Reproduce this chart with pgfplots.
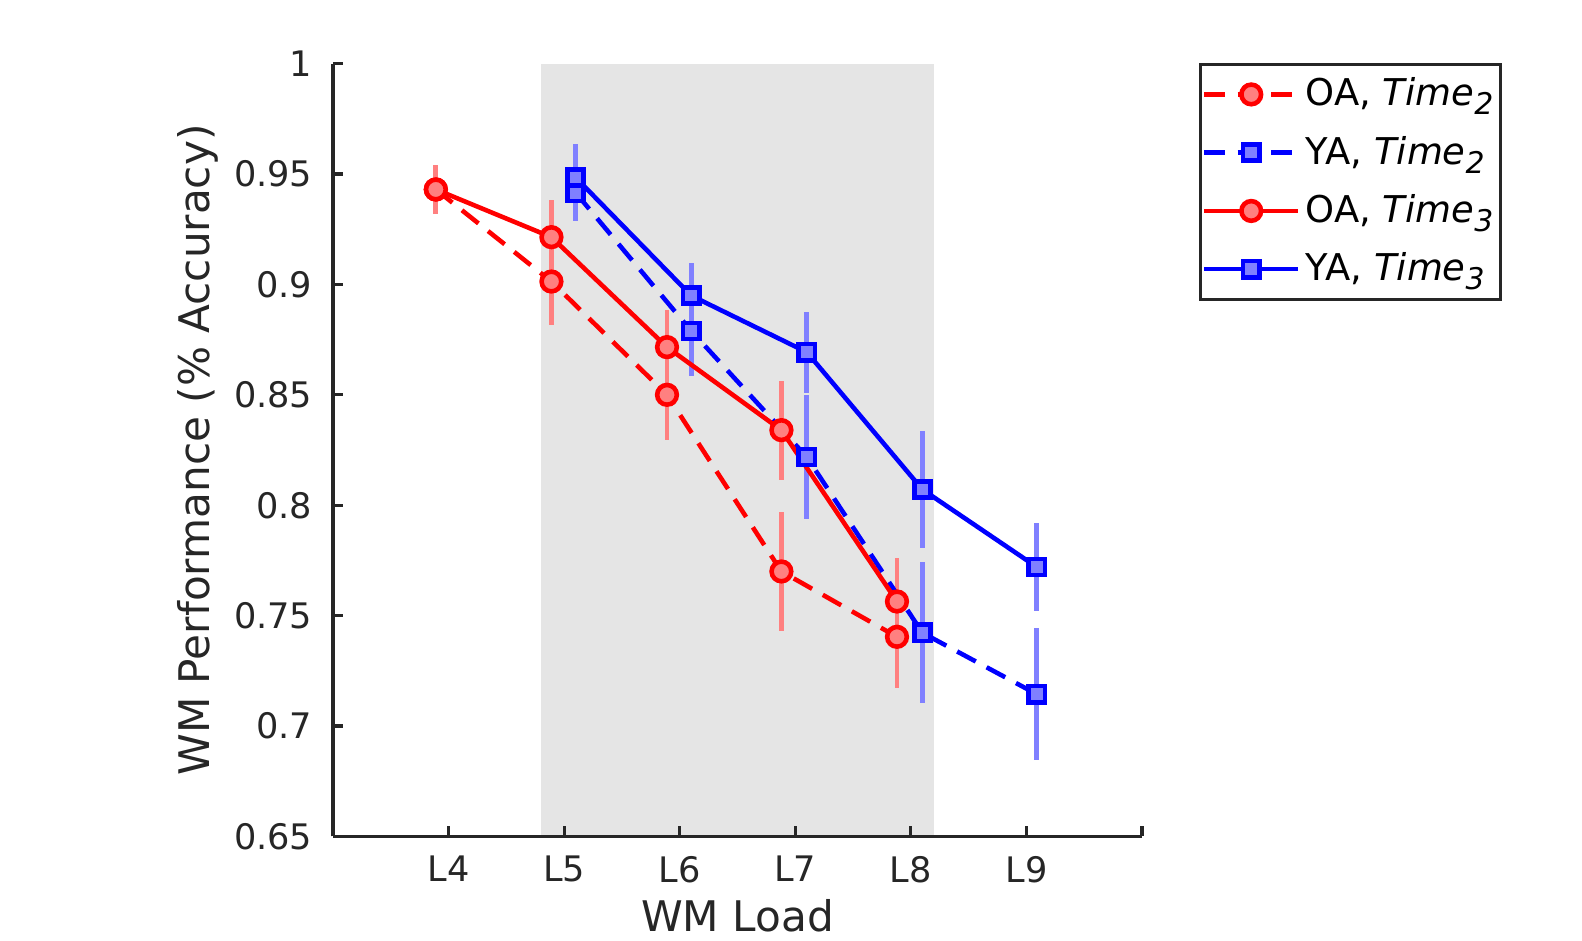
\documentclass[border=0pt]{standalone}
\usepackage{fontspec}
\setmainfont{DejaVu Sans}
\usepackage{pgfplots}
\usepackage{pgfplotstable}
\pgfplotsset{compat=1.18}

\definecolor{oared}{RGB}{255,0,0}
\definecolor{oabar}{RGB}{255,128,128}
\definecolor{yablue}{RGB}{0,0,255}
\definecolor{yabar}{RGB}{128,128,255}
\definecolor{axgray}{RGB}{38,38,38}
\definecolor{shade}{RGB}{229,229,229}

\newcommand{\sub}[1]{\raisebox{-0.45ex}{\fontsize{8.5}{9}\selectfont\itshape #1}}

% x is offset from the load (OA -0.11, YA +0.1), e = error bar half length
\pgfplotstableread{
x y e
3.89 0.9430 0.0110
4.89 0.9013 0.0197
5.89 0.8500 0.0206
6.88 0.7700 0.0270
7.88 0.7404 0.0233
}\oatwo
\pgfplotstableread{
x y e
3.89 0.9430 0.0110
4.89 0.9214 0.0170
5.89 0.8716 0.0170
6.88 0.8340 0.0224
7.88 0.7564 0.0197
}\oathree
\pgfplotstableread{
x y e
5.10 0.9415 0.0130
6.10 0.8789 0.0206
7.10 0.8218 0.0280
8.10 0.7422 0.0320
9.09 0.7144 0.0300
}\yatwo
\pgfplotstableread{
x y e
5.10 0.9484 0.0150
6.10 0.8949 0.0146
7.10 0.8693 0.0183
8.10 0.8071 0.0265
9.09 0.7720 0.0199
}\yathree

\begin{document}
\begin{tikzpicture}
\path[use as bounding box] (-3.33cm,-1.036cm) rectangle (12.49cm,8.364cm);
\begin{axis}[
  width=8.09cm, height=7.728cm, scale only axis,
  xmin=3, xmax=10, ymin=0.65, ymax=1,
  axis x line*=bottom, axis y line*=left,
  axis line style={-, draw=axgray, line width=0.9pt},
  axis on top,
  tick align=inside, major tick length=0.1cm,
  tick style={draw=axgray, line width=0.9pt},
  xtick={3,4,5,6,7,8,9,10},
  xticklabels={,L4,L5,L6,L7,L8,L9,},
  ytick={0.65,0.7,0.75,0.8,0.85,0.9,0.95,1},
  yticklabels={0.65,0.7,0.75,0.8,0.85,0.9,0.95,1},
  tick label style={font=\fontsize{10}{12}\selectfont, text=axgray, inner sep=0pt},
  yticklabel style={xshift=-0.2cm},
  xticklabel style={yshift=-0.19cm},
  xlabel={WM Load},
  ylabel={WM Performance (\% Accuracy)},
  label style={font=\fontsize{12}{14}\selectfont, text=axgray},
  xlabel style={at={(axis description cs:0.5,-0.123)}, anchor=base, inner sep=0pt},
  ylabel style={at={(axis description cs:-0.167,0.5)}, anchor=center},
  legend style={at={(axis description cs:1.070,1.001)}, anchor=north west,
    draw=black!85, line width=0.9pt, font=\fontsize{10.5}{12}\selectfont,
    row sep=3.1pt, inner xsep=0.5pt, inner ysep=1.8pt,
    nodes={inner xsep=1.5pt, inner ysep=2pt}},
  legend cell align=left,
  legend image code/.code={
    \draw[mark repeat=2, mark phase=2, #1]
      plot coordinates {(0cm,0cm) (0.47cm,0cm) (0.94cm,0cm)};},
]
% shaded load range
\addplot[fill=shade, draw=none, forget plot]
  coordinates {(4.8,0.65) (4.8,1) (8.2,1) (8.2,0.65)} -- cycle;

% error bars (behind the lines)
\addplot[draw=none, forget plot, error bars/.cd, y dir=both, y explicit,
  error mark=none, error bar style={draw=oabar, solid, line width=1.4pt}]
  table[x=x, y=y, y error=e] {\oatwo};
\addplot[draw=none, forget plot, error bars/.cd, y dir=both, y explicit,
  error mark=none, error bar style={draw=oabar, solid, line width=1.4pt}]
  table[x=x, y=y, y error=e] {\oathree};
\addplot[draw=none, forget plot, error bars/.cd, y dir=both, y explicit,
  error mark=none, error bar style={draw=yabar, solid, line width=1.4pt}]
  table[x=x, y=y, y error=e] {\yatwo};
\addplot[draw=none, forget plot, error bars/.cd, y dir=both, y explicit,
  error mark=none, error bar style={draw=yabar, solid, line width=1.4pt}]
  table[x=x, y=y, y error=e] {\yathree};

% lines
\addplot[draw=oared, line width=1.3pt, dash pattern=on 6pt off 3.5pt,
  mark=*, mark size=2.8pt, mark options={solid, fill=oabar, draw=oared, line width=1.3pt}]
  table[x=x, y=y] {\oatwo};
\addlegendentry{OA, \textit{Time}\sub{2}}
\addplot[draw=yablue, line width=1.3pt, dash pattern=on 6pt off 3.5pt,
  mark=square*, mark size=2.3pt, mark options={solid, fill=yabar, draw=yablue, line width=1.3pt}]
  table[x=x, y=y] {\yatwo};
\addlegendentry{YA, \textit{Time}\sub{2}}
\addplot[draw=oared, line width=1.3pt,
  mark=*, mark size=2.8pt, mark options={solid, fill=oabar, draw=oared, line width=1.3pt}]
  table[x=x, y=y] {\oathree};
\addlegendentry{OA, \textit{Time}\sub{3}}
\addplot[draw=yablue, line width=1.3pt,
  mark=square*, mark size=2.3pt, mark options={solid, fill=yabar, draw=yablue, line width=1.3pt}]
  table[x=x, y=y] {\yathree};
\addlegendentry{YA, \textit{Time}\sub{3}}
\end{axis}
\end{tikzpicture}
\end{document}
